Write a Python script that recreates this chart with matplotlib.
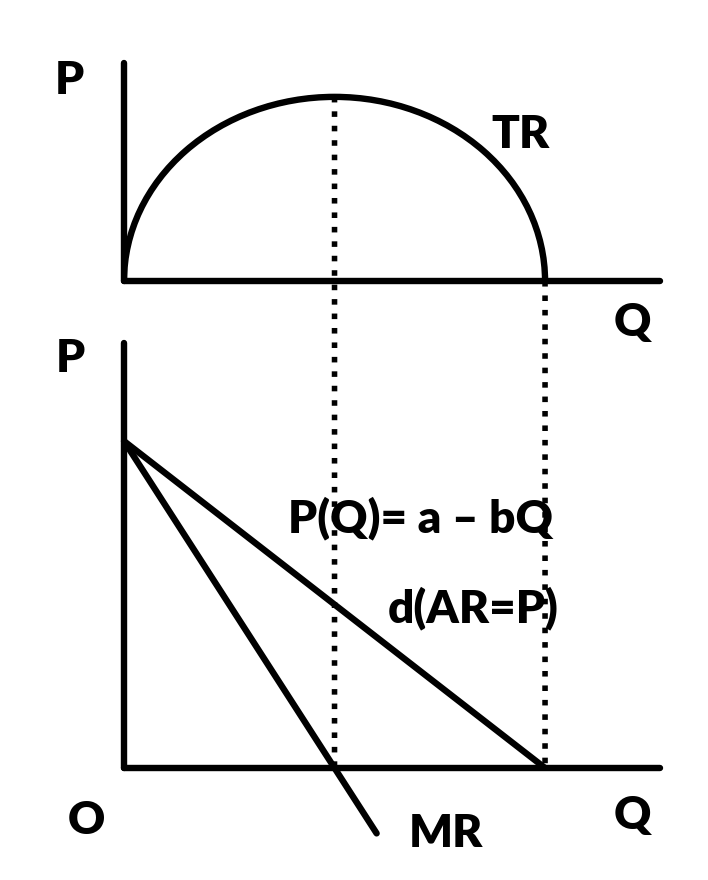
import matplotlib
matplotlib.use("Agg")
import matplotlib.pyplot as plt
from matplotlib.patches import Arc, ConnectionPatch

# demand P(Q) = a - bQ (arbitrary units)
q_demand = [0, 10]
p_demand = [10, 0]
q_mr = [0, 6]
p_mr = [10, -2]

# total revenue hump: zero at Q=0 and Q=10, peak at Q=5
q_tr_zero = [0, 10]
q_tr_peak = 5
tr_peak = 25

q_max = 12.73
p_max = 13.0
tr_max = 29.6

plt.rcParams['font.family'] = ['Lato', 'DejaVu Sans']

LW = 4.6
FS = 33
WEIGHT = 'heavy'

fig = plt.figure(figsize=(7.08, 8.8), dpi=100)
ax_tr = fig.add_axes([124 / 708, 1 - 281 / 880, 536 / 708, 218 / 880])
ax_p = fig.add_axes([124 / 708, 1 - 768 / 880, 536 / 708, 425 / 880])

for ax in (ax_tr, ax_p):
    ax.set_xlim(0, q_max)
    for side in ('top', 'right'):
        ax.spines[side].set_visible(False)
    for side in ('left', 'bottom'):
        ax.spines[side].set_linewidth(LW)
        ax.spines[side].set_capstyle('round')
    ax.set_xticks([])
    ax.set_yticks([])
    ax.patch.set_alpha(0)
ax_tr.set_ylim(0, tr_max)
ax_p.set_ylim(0, p_max)

# TR curve
tr_arc = Arc(((q_tr_zero[0] + q_tr_zero[1]) / 2, 0), q_tr_zero[1] - q_tr_zero[0], 2 * tr_peak,
             theta1=0, theta2=180, lw=LW, color='black', zorder=3)
ax_tr.add_patch(tr_arc)

# demand and MR
ax_p.plot(q_demand, p_demand, color='black', lw=LW, solid_capstyle='round', zorder=3)
ax_p.plot(q_mr, p_mr, color='black', lw=LW, solid_capstyle='round', clip_on=False, zorder=3)

# dotted guides linking the two panels
for q, top in ((q_tr_peak, tr_peak), (q_tr_zero[1], 0)):
    con = ConnectionPatch(xyA=(q, top), coordsA=ax_tr.transData,
                          xyB=(q, 0), coordsB=ax_p.transData,
                          color='black', lw=4.0, linestyle=(0, (1, 1.6)),
                          capstyle='butt', zorder=2)
    fig.add_artist(con)

def label(x, y, s):
    fig.text(x / 708, 1 - y / 880, s, fontsize=FS, fontweight=WEIGHT,
             ha='center', va='center')

label(69, 81, 'P')
label(520, 134, 'TR')
label(632, 322, 'Q')
label(70, 358, 'P')
label(420, 518, 'P(Q)= a – bQ')
label(473, 608, 'd(AR=P)')
label(86, 820, 'O')
label(446, 833, 'MR')
label(632, 815, 'Q')

fig.savefig('out.png', dpi=100, facecolor='white')
